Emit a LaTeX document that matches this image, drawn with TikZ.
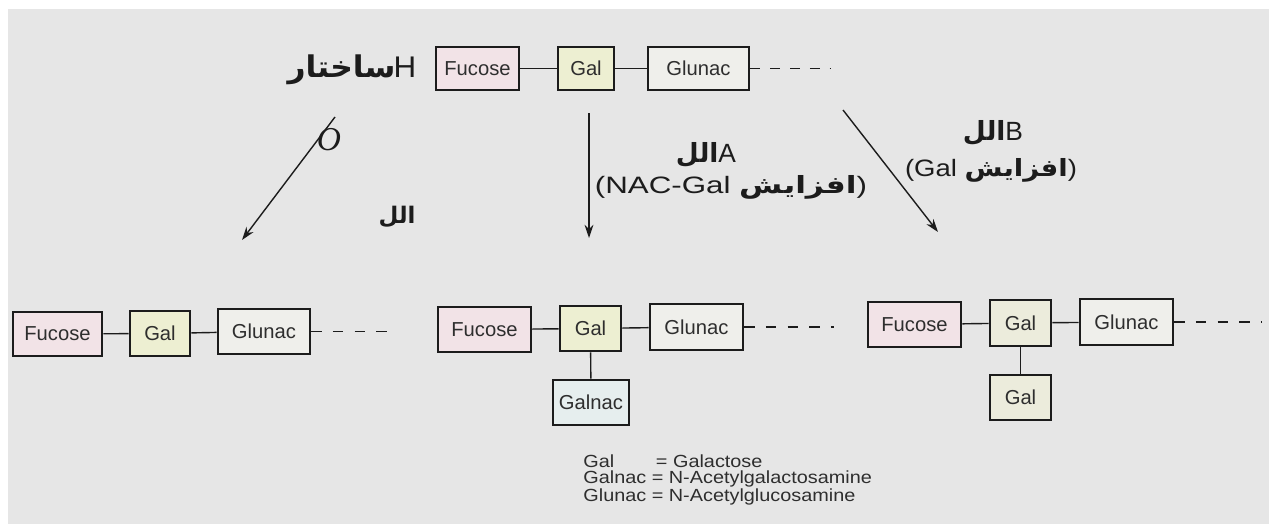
\documentclass[tikz,border=0pt]{standalone}
\usepackage{fontspec}
\setmainfont{Liberation Sans}
\newfontfamily\arabicfont[Script=Arabic]{DejaVu Sans}
\newfontfamily\serifit{Liberation Serif}
\TeXXeTstate=1
\usetikzlibrary{arrows.meta}
\newcommand{\fatxt}[1]{{\arabicfont\bfseries\beginR #1\endR}}
\definecolor{bggray}{HTML}{E6E6E6}
\definecolor{fuc}{HTML}{F2E3E7}
\definecolor{galc}{HTML}{EDEFD2}
\definecolor{galb}{HTML}{ECECDC}
\definecolor{gluc}{HTML}{EFEFEB}
\definecolor{galnc}{HTML}{E6EEEE}
\definecolor{ink}{HTML}{1C1C1C}
\definecolor{boxtext}{HTML}{2E2E2E}
\tikzset{
  sugar/.style={draw=ink, line width=1.5pt, inner sep=0pt, text=boxtext,
    font=\fontsize{11.5}{13}\selectfont, minimum height=0.9cm},
  bond/.style={draw=ink, line width=0.8pt},
  tail/.style={draw=ink, line width=0.8pt, dash pattern=on 6pt off 6.3pt},
  tailtop/.style={draw=ink, line width=0.8pt, dash pattern=on 5.5pt off 5.8pt},
  path/.style={draw=ink, line width=0.8pt, -{Stealth[length=7.5pt,width=5pt]}},
  lbl/.style={text=ink, inner sep=0pt}
}
\begin{document}
\begin{tikzpicture}[x=0.02cm,y=-0.02cm]
\useasboundingbox (0,0) rectangle (1269,524);
\fill[white] (0,0) rectangle (1269,524);
\fill[bggray] (8,9) rectangle (1269,524);

% top row (H structure)
\node[sugar, fill=fuc, minimum width=1.66cm, minimum height=0.86cm] (tf) at (477.5,68.5) {Fucose};
\node[sugar, fill=galc, minimum width=1.12cm, minimum height=0.86cm] (tg) at (586,68.5) {Gal};
\node[sugar, fill=gluc, minimum width=2.02cm, minimum height=0.86cm] (tn) at (698.5,68.5) {Glunac};
\coordinate (te) at (830,68.5);
\draw[bond] (tf) -- (tg);
\draw[bond] (tg) -- (tn);
\draw[tailtop] (tn.east) -- (te);
\node[lbl, font=\fontsize{17}{20}\selectfont, xscale=1.05] (hl) at (352,70) {\fatxt{ساختار}\kern-1pt H};

% arrows
\coordinate (la1) at (335,117); \coordinate (la2) at (242,240);
\coordinate (ma1) at (589,113); \coordinate (ma2) at (589,238);
\coordinate (ra1) at (843,110); \coordinate (ra2) at (938,232);
\draw[path] (la1) -- (la2);
\draw[path] (ma1) -- (ma2);
\draw[path] (ra1) -- (ra2);

\node[lbl, font=\serifit\itshape\fontsize{19}{22}\selectfont] (ol) at (329,140) {O};
\node[lbl, font=\fontsize{13}{16}\selectfont] (ol2) at (397,217) {\fatxt{الل}};

\node[lbl, font=\fontsize{15}{18}\selectfont] (al) at (706,155) {\fatxt{الل}A};
\node[lbl, font=\fontsize{13.5}{16}\selectfont, xscale=1.32] (an) at (731,187) {(NAC-Gal \fatxt{افزایش})};
\node[lbl, font=\fontsize{15}{18}\selectfont] (bl) at (993,133) {\fatxt{الل}B};
\node[lbl, font=\fontsize{13.5}{16}\selectfont, xscale=1.16] (bn) at (991,170) {(Gal \fatxt{افزایش})};

% bottom left (O)
\node[sugar, fill=fuc, minimum width=1.78cm, minimum height=0.88cm] (of) at (57.5,334) {Fucose};
\node[sugar, fill=galc, minimum width=1.20cm] (og) at (160,333.5) {Gal};
\node[sugar, fill=gluc, minimum width=1.84cm] (on) at (264,331.5) {Glunac};
\coordinate (oe) at (397,331.5);
\draw[bond] (of) -- (og);
\draw[bond] (og) -- (on);
\draw[tail] (on.east) -- (oe);

% bottom middle (A)
\node[sugar, fill=fuc, minimum width=1.86cm] (af) at (484.5,329.5) {Fucose};
\node[sugar, fill=galc, minimum width=1.22cm] (ag) at (590.5,328.5) {Gal};
\node[sugar, fill=gluc, minimum width=1.86cm, minimum height=0.92cm] (an2) at (696.5,327) {Glunac};
\node[sugar, fill=galnc, minimum width=1.52cm] (aa) at (591,402.5) {Galnac};
\coordinate (ae) at (834,327);
\draw[bond] (af) -- (ag);
\draw[bond] (ag) -- (an2);
\draw[bond] (ag) -- (aa);
\draw[tail] (an2.east) -- (ae);

% bottom right (B)
\node[sugar, fill=fuc, minimum width=1.86cm] (bf) at (914.5,324.5) {Fucose};
\node[sugar, fill=galb, minimum width=1.22cm, minimum height=0.92cm] (bg) at (1020.5,323) {Gal};
\node[sugar, fill=gluc, minimum width=1.86cm, minimum height=0.92cm] (bn2) at (1126.5,322) {Glunac};
\node[sugar, fill=galb, minimum width=1.22cm] (bb) at (1020.5,397.5) {Gal};
\coordinate (be) at (1262,322);
\draw[bond] (bf) -- (bg);
\draw[bond] (bg) -- (bn2);
\draw[bond] (bg) -- (bb);
\draw[tail] (bn2.east) -- (be);

% legend
\node[lbl, anchor=west, text=boxtext, font=\fontsize{10}{9}\selectfont, align=left, xscale=1.13] (leg) at (583,480)
  {Gal\hspace{2.1em}= Galactose\\[0pt]Galnac = N-Acetylgalactosamine\\[0pt]Glunac = N-Acetylglucosamine};
\end{tikzpicture}
\end{document}
